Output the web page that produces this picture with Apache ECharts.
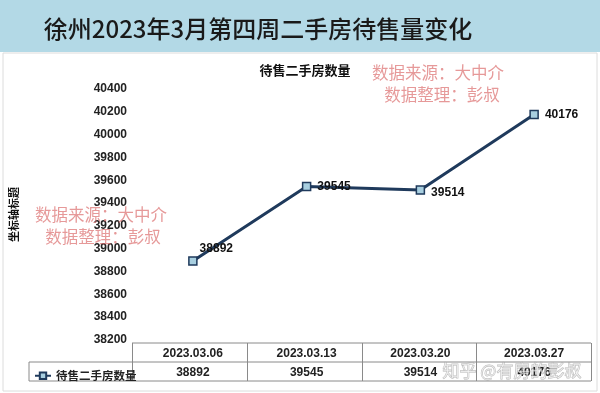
<!DOCTYPE html>
<html>
<head>
<meta charset="utf-8">
<script src="https://cdn.jsdelivr.net/npm/echarts@6/dist/echarts.min.js"></script>
<style>html,body{margin:0;padding:0;background:#fff}#c{width:600px;height:393px}</style>
</head>
<body>
<div id="c"></div>
<script>
const categories = ['2023.03.06', '2023.03.13', '2023.03.20', '2023.03.27'];
const values = [38892, 39545, 39514, 40176];
const seriesName = '待售二手房数量';
const mainTitle = '徐州2023年3月第四周二手房待售量变化';
const yAxisTitle = '坐标轴标题';
const yMin = 38200, yMax = 40400, yStep = 200;
const watermark1 = '数据来源：大中介';
const watermark2 = '数据整理：彭叔';
const siteMark = '知乎 @有房的彭叔';

const GL = 132, GR = 9, GT = 89, GB = 53;
const lineColor = '#1f3a5c';
const font = '"Liberation Sans", "Noto Sans CJK SC", sans-serif';
const cjk = '"Noto Sans CJK SC", sans-serif';
const chart = echarts.init(document.getElementById('c'));

const labelOffsets = [[-4, -12], [0, 0], [0, 3], [0, 0]];

chart.setOption({
  animation: false,
  textStyle: { fontFamily: font },
  title: {
    text: seriesName, left: 300, top: 59, textAlign: 'center',
    textStyle: { fontSize: 13, fontWeight: 'bold', color: '#111', fontFamily: cjk }
  },
  legend: {
    left: 29, top: 365, itemWidth: 16, itemHeight: 8,
    textStyle: { fontSize: 11.5, fontWeight: 'bold', color: '#222', fontFamily: cjk },
    data: [seriesName]
  },
  grid: { left: GL, right: GR, top: GT, bottom: GB },
  xAxis: {
    type: 'category', data: categories, boundaryGap: true,
    axisLine: { show: false }, axisTick: { show: false }, axisLabel: { show: false }
  },
  yAxis: {
    type: 'value', min: yMin, max: yMax, interval: yStep,
    name: yAxisTitle, nameLocation: 'middle', nameRotate: 90, nameGap: 117,
    nameTextStyle: { fontSize: 11, fontWeight: 'bold', color: '#111', fontFamily: cjk },
    axisLine: { show: false }, axisTick: { show: false }, splitLine: { show: false },
    axisLabel: { fontSize: 12, fontWeight: 'bold', color: '#222', margin: 9, fontFamily: font, formatter: v => String(v) }
  },
  series: [{
    name: seriesName, type: 'line',
    data: values.map((v, i) => ({ value: v, label: { offset: labelOffsets[i] } })),
    symbol: 'rect', symbolSize: 8,
    lineStyle: { color: lineColor, width: 3 },
    itemStyle: { color: '#a8cfe0', borderColor: lineColor, borderWidth: 1.5 },
    label: { show: true, position: 'right', distance: 6, fontSize: 12, fontWeight: 'bold', color: '#111', fontFamily: font }
  }]
});

function buildGraphics() {
  const els = [];
  const gray = '#8a8a8a';
  const xLeft = GL, xRight = 600 - GR;
  const yTop = 343, yMid = 362, yBot = 381, legLeft = 29;
  const bandW = (xRight - xLeft) / categories.length;
  els.push({ type: 'rect', shape: { x: 0, y: 0, width: 600, height: 52 }, style: { fill: '#b3d9e6' }, z: -10 });
  els.push({ type: 'text', x: 258, y: 29, style: { text: mainTitle, fontSize: 24, fontWeight: 500, fill: '#1a1a1a', align: 'center', verticalAlign: 'middle', fontFamily: cjk } });
  els.push({ type: 'rect', shape: { x: 3, y: 53, width: 594, height: 338 }, style: { fill: 'none', stroke: '#dcdcdc', lineWidth: 1 }, z: -9 });
  const hl = (x1, x2, y) => els.push({ type: 'line', shape: { x1, y1: y, x2, y2: y }, style: { stroke: gray, lineWidth: 1 } });
  const vl = (x, y1, y2) => els.push({ type: 'line', shape: { x1: x, y1, x2: x, y2 }, style: { stroke: gray, lineWidth: 1 } });
  hl(xLeft, xRight, yTop);
  hl(legLeft, xRight, yMid);
  hl(legLeft, xRight, yBot);
  vl(legLeft, yMid, yBot);
  for (let i = 0; i <= categories.length; i++) vl(Math.round(xLeft + i * bandW) + 0.5, yTop, yBot);
  categories.forEach((c, i) => {
    const cx = chart.convertToPixel({ xAxisIndex: 0 }, i);
    els.push({ type: 'text', x: cx, y: (yTop + yMid) / 2 + 1, style: { text: c, fontSize: 12, fontWeight: 'bold', fill: '#222', align: 'center', verticalAlign: 'middle', fontFamily: font } });
    els.push({ type: 'text', x: cx, y: (yMid + yBot) / 2 + 1, style: { text: String(values[i]), fontSize: 12, fontWeight: 'bold', fill: '#222', align: 'center', verticalAlign: 'middle', fontFamily: font } });
  });
  const wm = (x, y, t) => els.push({ type: 'text', x, y, style: { text: t, fontSize: 16.5, fill: 'rgba(220,110,110,0.7)', align: 'center', verticalAlign: 'middle', fontFamily: cjk }, z: 100 });
  wm(438, 73, watermark1); wm(442, 95, watermark2);
  wm(101, 215, watermark1); wm(103, 237, watermark2);
  els.push({ type: 'text', x: 512, y: 371, style: { text: siteMark, fontSize: 17, fill: 'rgba(255,255,255,0.5)', stroke: 'rgba(150,150,150,0.7)', lineWidth: 0.8, align: 'center', verticalAlign: 'middle', fontFamily: cjk }, z: 100 });
  chart.setOption({ graphic: { elements: els } });
}
buildGraphics();
</script>
</body>
</html>
